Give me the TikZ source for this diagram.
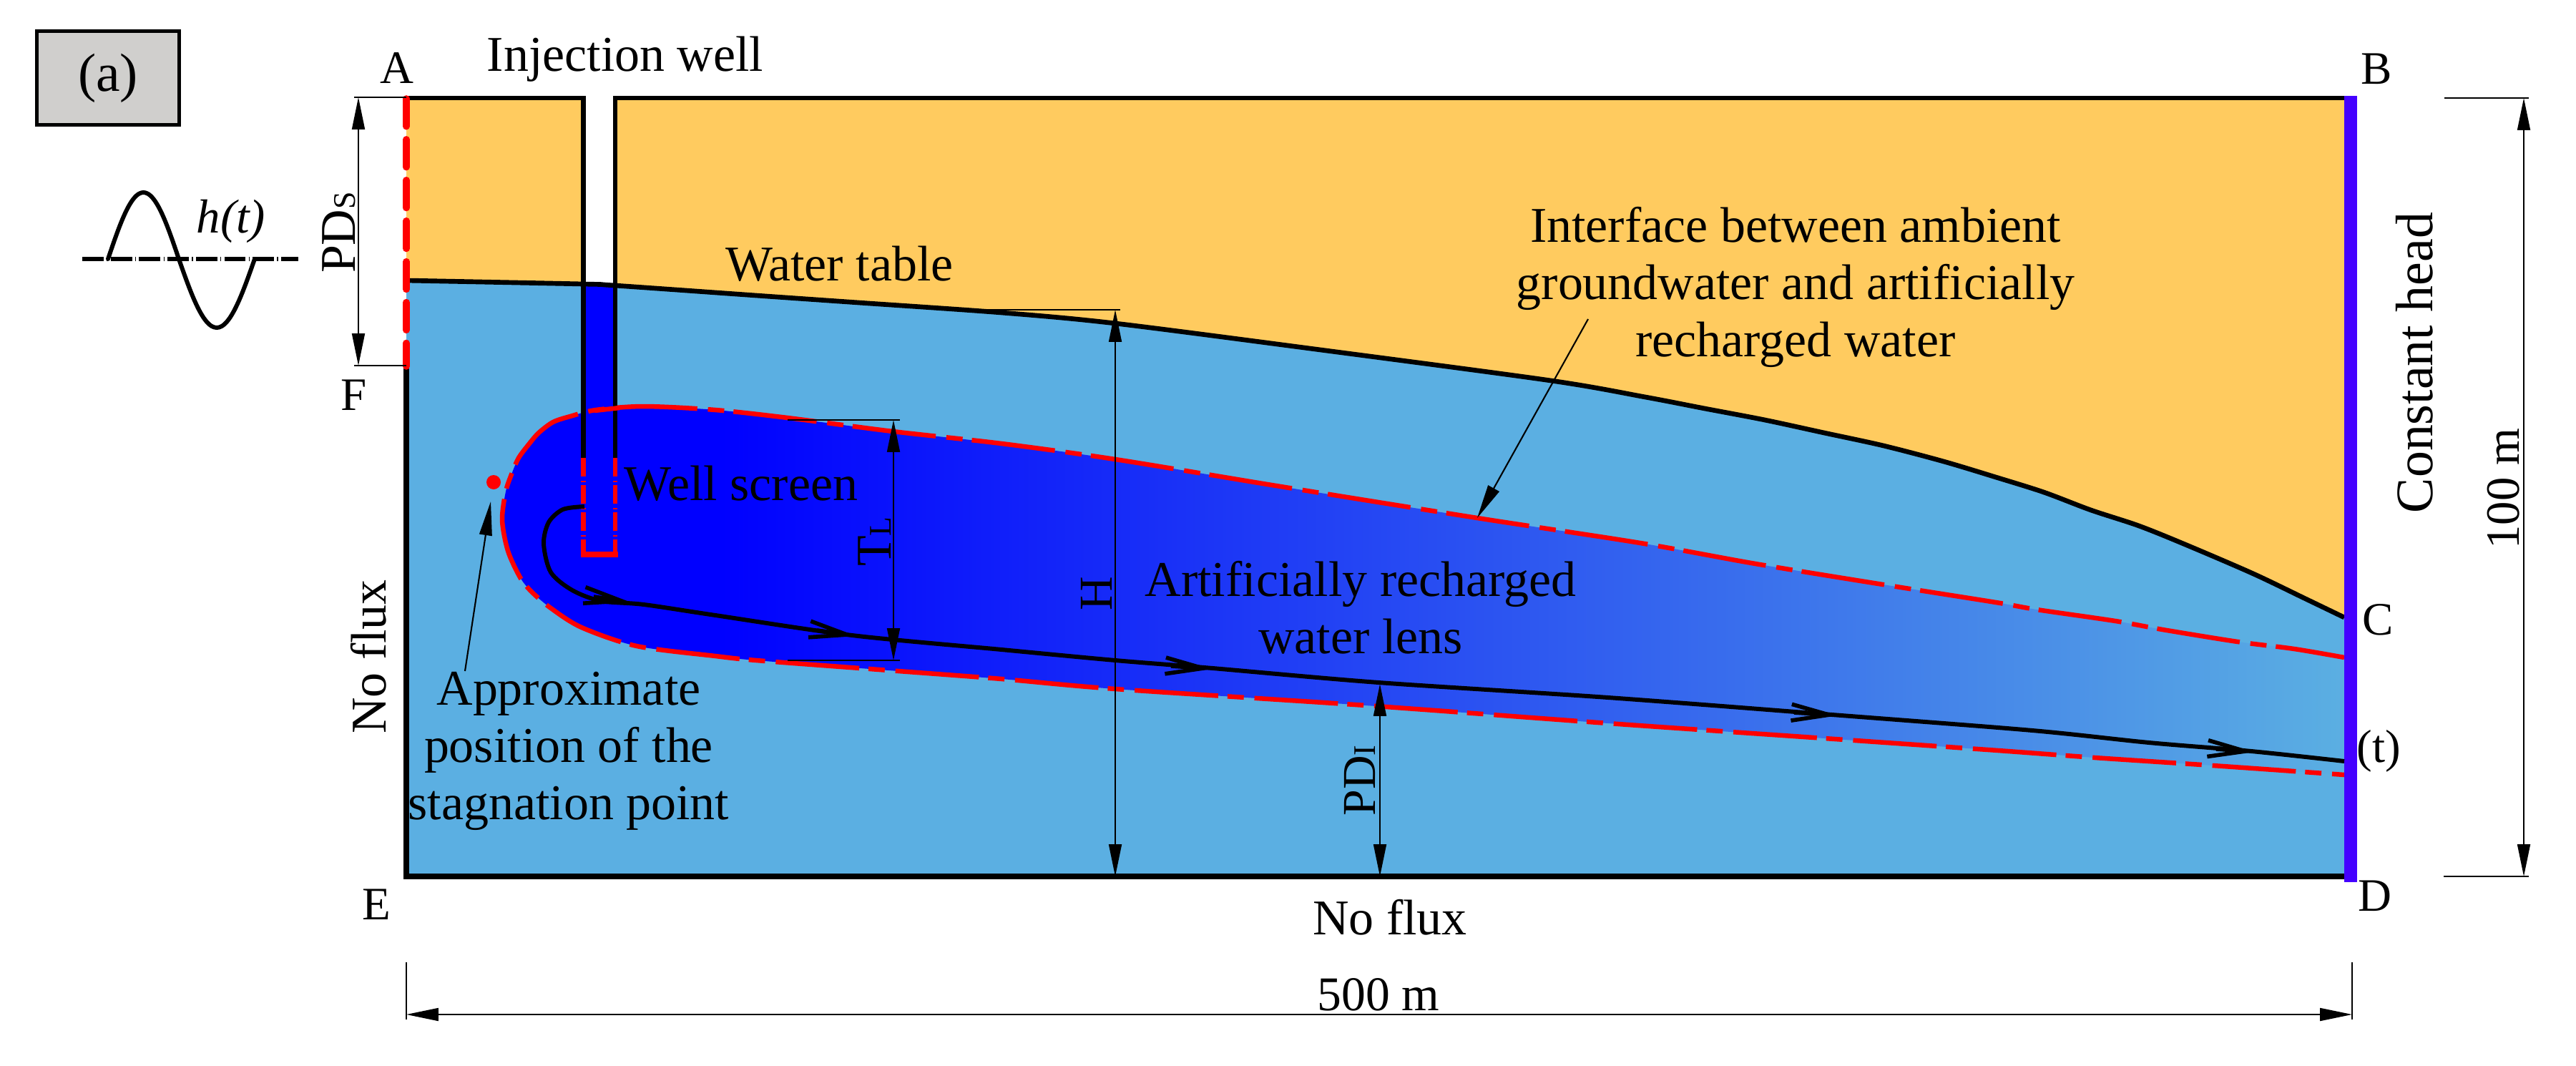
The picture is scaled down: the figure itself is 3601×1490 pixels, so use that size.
\documentclass[tikz,border=0pt]{standalone}
\usepackage{fontspec}
\setmainfont{Liberation Serif}
\usetikzlibrary{arrows.meta}
\definecolor{sand}{RGB}{255,203,95}
\definecolor{water}{RGB}{91,175,226}
\definecolor{headblue}{RGB}{68,0,255}
\definecolor{labelgrey}{RGB}{208,207,205}
\pgfdeclarehorizontalshading{lensgrad}{100bp}{color(0bp)=(blue); color(30.8bp)=(blue); color(75bp)=(water); color(100bp)=(water)}
\newcommand{\smallcap}[1]{{\fontsize{25}{25}\selectfont #1}}
\tikzset{
  x=0.02cm,y=-0.02cm,
  lab/.style={inner sep=0pt,outer sep=0pt,anchor=base,font=\fontsize{39.8}{45.5}\selectfont},
  letter/.style={lab,font=\fontsize{37}{45}\selectfont},
  boundary/.style={line width=4pt,black},
  wallline/.style={line width=3.8pt,black,miter limit=10},
  redbound/.style={line width=5.5pt,red,line cap=round,dash pattern=on 22pt off 10.4pt},
  screen/.style={line width=3.6pt,red,dash pattern=on 14.8pt off 3.4pt on 1.1pt off 2.3pt},
  interface/.style={line width=3.7pt,red,dash pattern=on 66.6pt off 7.4pt on 13pt off 8.5pt,dash phase=11.4pt},
  flow/.style={line width=3.4pt,black},
  flowtip/.style={line width=3.2pt,black,-{Straight Barb[length=30pt,width=13pt,line width=3.2pt]}},
  dimline/.style={line width=1.2pt,black,{Triangle[length=25.6pt,width=10.2pt]}-{Triangle[length=25.6pt,width=10.2pt]}},
  tick/.style={line width=1.1pt,black},
  pointer/.style={line width=1.2pt,black,-{Triangle[length=27pt,width=10pt]}},
}
\begin{document}
\begin{tikzpicture}
\useasboundingbox (0,0) rectangle (3601,1490);
\fill[white] (0,0) rectangle (3601,1490);
% domain
\fill[sand] (568,137) rectangle (3277,1225);
\fill[water] plot[smooth,tension=.5] coordinates {(568,392) (815,397) (859,399) (1071,414) (1200,423) (1400,437) (1559,452) (1846,489) (2168,532) (2300,555) (2383,571) (2467,587) (2550,605) (2633,623) (2717,645) (2790,667) (2857,688) (2923,713) (2990,735) (3057,762) (3150,802) (3223,837) (3277,863)} -- (3277,1225) -- (568,1225) -- cycle;
% well interior
\fill[white] (815.5,137) rectangle (860,397);
\fill[blue] (815.5,397) rectangle (860,775);
% lens
\draw[interface,shading=lensgrad] plot[smooth,tension=.5] coordinates {(3277,919) (3207,907) (3128,897) (3023,880) (2957,868) (2847,852) (2790,842) (2632,817) (2454,788) (2293,759) (2065,724) (1784,679) (1559,642) (1400,620) (1248,603) (1101,584) (1000,573) (900,568) (833,573) (797,582) (773,590) (753,605) (740,620) (725,640) (715,663) (707,687) (702,727) (710,770) (727,807) (743,827) (770,850) (813,877) (890,903) (1000,917) (1057,923) (1229,936) (1400,949) (1559,963) (1909,986) (2248,1011) (2579,1034) (2793,1049) (2928,1059) (3093,1070) (3277,1083)};
% well
\draw[wallline] (815.5,640) -- (815.5,137) -- (568,137);
\draw[wallline] (860,640) -- (860,137) -- (3277,137);
\draw[screen] (815.5,640) -- (815.5,775);
\draw[screen] (860,640) -- (860,775);
\draw[line width=4pt,red] (812,775) -- (863.5,775);
\draw[line width=3.7pt,red] (831,574) -- (866,570);
% water table
\draw[line width=3.8pt,black] plot[smooth,tension=.5] coordinates {(568,392) (815,397) (859,399) (1071,414) (1200,423) (1400,437) (1559,452) (1846,489) (2168,532) (2300,555) (2383,571) (2467,587) (2550,605) (2633,623) (2717,645) (2790,667) (2857,688) (2923,713) (2990,735) (3057,762) (3150,802) (3223,837) (3277,863)};
% outer boundaries
\draw[boundary] (568,511) -- (568,1225) -- (3277,1225);
\draw[redbound] (568,138) -- (568,512);
\draw[line width=10.2pt,headblue] (3286,134) -- (3286,1233);
% flow line
\draw[flow] plot[smooth,tension=.5] coordinates {(817,708) (787,712) (767,730) (760,760) (770,800) (800,825) (840,840) (900,845) (1000,860) (1191,888) (1400,908) (1559,923) (1695,934) (1927,954) (2248,975) (2561,999) (2841,1021) (3004,1038) (3147,1050) (3277,1064)};
\coordinate (ta1) at (830,834); \coordinate (tb1) at (882,842);
\coordinate (ta2) at (1142,881); \coordinate (tb2) at (1197,889);
\coordinate (ta3) at (1637,931); \coordinate (tb3) at (1695,935);
\coordinate (ta4) at (2508,996); \coordinate (tb4) at (2570,1000);
\coordinate (ta5) at (3098,1047); \coordinate (tb5) at (3152,1051);
\draw[flowtip] (ta1) -- (tb1);
\draw[flowtip] (ta2) -- (tb2);
\draw[flowtip] (ta3) -- (tb3);
\draw[flowtip] (ta4) -- (tb4);
\draw[flowtip] (ta5) -- (tb5);
% stagnation point
\fill[red] (690,674) circle (10);
\coordinate (stagtail) at (650,938); \coordinate (stagtip) at (686,701);
\draw[pointer] (stagtail) -- (stagtip);
\coordinate (iftail) at (2220,446); \coordinate (iftip) at (2065,724);
\draw[pointer] (iftail) -- (iftip);
% dimensions
\coordinate (pdA) at (501,136); \coordinate (pdF) at (501,511);
\draw[tick] (495,136) -- (568,136); \draw[tick] (495,511) -- (568,511);
\draw[dimline] (pdA) -- (pdF);
\coordinate (tlA) at (1249,587); \coordinate (tlB) at (1249,923);
\draw[tick] (1101,587) -- (1258,587); \draw[tick] (1101,923) -- (1258,923);
\draw[dimline] (tlA) -- (tlB);
\coordinate (hA) at (1559,433); \coordinate (hB) at (1559,1225);
\draw[tick] (1351,433) -- (1566,433);
\draw[dimline] (hA) -- (hB);
\coordinate (piA) at (1929,956); \coordinate (piB) at (1929,1225);
\draw[dimline] (piA) -- (piB);
\coordinate (hundA) at (3528,137); \coordinate (hundB) at (3528,1225);
\draw[tick] (3417,137) -- (3535,137); \draw[tick] (3416,1225) -- (3535,1225);
\draw[dimline] (hundA) -- (hundB);
\coordinate (fiveA) at (568,1418); \coordinate (fiveB) at (3288,1418);
\draw[tick] (568,1345) -- (568,1425); \draw[tick] (3288,1345) -- (3288,1425);
\draw[dimline] (fiveA) -- (fiveB);
% sine
\draw[line width=3.4pt,black,dash pattern=on 17pt off 2.4pt on .8pt off 2.4pt] (115,362) -- (417,362);
\draw[line width=3.4pt,black,line cap=round] plot[domain=0:180,samples=31,smooth] ({151+0.55*\x},{362-93*sin(\x)}) -- plot[domain=0:180,samples=31,smooth] ({250+0.5889*\x},{362+96*sin(\x)});
% panel label
\node[draw=black,line width=3pt,fill=labelgrey,minimum width=113pt,minimum height=74.5pt,inner sep=0pt,outer sep=0pt,font=\fontsize{43}{45}\selectfont] (panel) at (151,109) {(a)};
% corner letters
\node[letter] (A) at (555,117) {A};
\node[letter] (B) at (3322,118) {B};
\node[letter] (C) at (3324,887) {C};
\node[letter] (t) at (3325,1065) {(t)};
\node[letter] (D) at (3320,1273) {D};
\node[letter] (E) at (526,1285) {E};
\node[letter] (F) at (495,573) {F};
% labels
\node[lab] (inj) at (874,100) {Injection well};
\node[lab,anchor=base west] (wt) at (1014,392) {Water table};
\node[lab,align=center,anchor=base] (iface) at (2510,498) {Interface between ambient\\groundwater and artificially\\recharged water};
\node[lab] (ws) at (1036,699) {Well screen};
\node[lab,align=center,anchor=base] (apx) at (795,1145) {Approximate\\position of the\\stagnation point};
\node[lab,align=center,anchor=base] (arw) at (1902,913) {Artificially recharged\\water lens};
\node[lab] (nf1) at (1943,1306) {No flux};
\node[lab,rotate=90] (nf2) at (539,918) {No flux};
\node[lab,font=\fontsize{42}{45}\selectfont,rotate=90] (ch) at (3400,507) {Constant head};
\node[lab,font=\fontsize{38}{45}\selectfont,rotate=90] (hund) at (3521,683) {100 m};
\node[lab,font=\fontsize{38.5}{45}\selectfont] (five) at (1927,1412) {500 m};
\node[lab,font=\fontsize{38}{45}\selectfont\itshape] (ht) at (323,325) {h(t)};
\node[lab,rotate=90] (pds) at (496,325) {PD\smallcap{S}};
\node[lab,rotate=90] (tl) at (1245,757) {T\smallcap{L}};
\node[lab,font=\fontsize{37.5}{45}\selectfont,rotate=90] (hl) at (1554,830) {H};
\node[lab,font=\fontsize{37.5}{45}\selectfont,rotate=90] (pdi) at (1922,1091) {PD\smallcap{I}};
\end{tikzpicture}
\end{document}
